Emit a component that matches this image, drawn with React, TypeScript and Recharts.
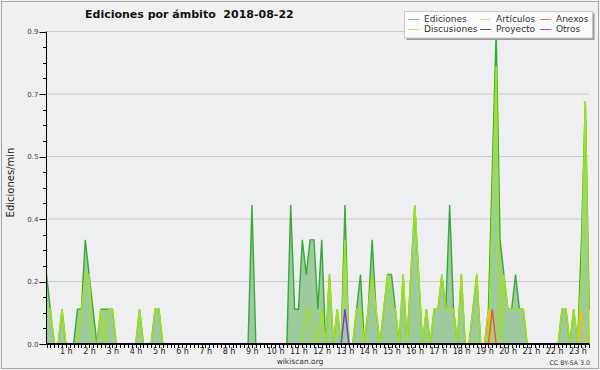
import { ComposedChart, Area, Line, XAxis, YAxis, CartesianGrid, ReferenceLine } from "recharts";

// 10-minute bins from 0:00 to 23:20, values in edits per minute
const ediciones = [
  0.2, 0.1, 0, 0, 0.1, 0, // 0 h
  0, 0, 0.1, 0.1, 0.3, 0.2, // 1 h
  0.1, 0, 0.1, 0.1, 0.1, 0.1, // 2 h
  0, 0, 0, 0, 0, 0, // 3 h
  0.1, 0, 0, 0, 0.1, 0.1, // 4 h
  0, 0, 0, 0, 0, 0, // 5 h
  0, 0, 0, 0, 0, 0, // 6 h
  0, 0, 0, 0, 0, 0, // 7 h
  0, 0, 0, 0, 0, 0.4, // 8 h
  0, 0, 0, 0, 0, 0, // 9 h
  0, 0, 0, 0.4, 0.1, 0.1, // 10 h
  0.3, 0.2, 0.3, 0.3, 0.1, 0.3, // 11 h
  0, 0.2, 0, 0.1, 0, 0.4, // 12 h
  0, 0, 0.1, 0.2, 0, 0.1, // 13 h
  0.3, 0.1, 0, 0.1, 0.2, 0.2, // 14 h
  0.1, 0, 0.2, 0, 0.2, 0.4, // 15 h
  0.2, 0, 0.1, 0, 0.1, 0.1, // 16 h
  0.2, 0.1, 0.4, 0.1, 0, 0.2, // 17 h
  0, 0, 0.1, 0.2, 0, 0, // 18 h
  0.1, 0.5, 0.9, 0.3, 0.2, 0.1, // 19 h
  0.1, 0.2, 0.1, 0.1, 0, 0, // 20 h
  0, 0, 0, 0, 0, 0, // 21 h
  0, 0.1, 0.1, 0, 0.1, 0, // 22 h
  0.3, 0.7, 0.1, // 23 h
];

const articulos = [
  0.1, 0.1, 0, 0, 0.1, 0,
  0, 0, 0, 0.1, 0.2, 0.2,
  0, 0, 0.1, 0, 0.1, 0.1,
  0, 0, 0, 0, 0, 0,
  0.1, 0, 0, 0, 0.1, 0.1,
  0, 0, 0, 0, 0, 0,
  0, 0, 0, 0, 0, 0,
  0, 0, 0, 0, 0, 0,
  0, 0, 0, 0, 0, 0,
  0, 0, 0, 0, 0, 0,
  0, 0, 0, 0, 0, 0,
  0, 0.1, 0.1, 0, 0, 0.1,
  0, 0.2, 0, 0.1, 0, 0.3,
  0, 0, 0.1, 0.1, 0, 0.1,
  0.2, 0.1, 0, 0.1, 0.2, 0.1,
  0.1, 0, 0.2, 0, 0.2, 0.4,
  0.2, 0, 0.1, 0, 0.1, 0.1,
  0.2, 0.1, 0.1, 0.1, 0, 0.2,
  0, 0, 0.1, 0.2, 0, 0,
  0, 0.4, 0.8, 0, 0.2, 0.1,
  0.1, 0.1, 0.1, 0.1, 0, 0,
  0, 0, 0, 0, 0, 0,
  0, 0.1, 0.1, 0, 0.1, 0,
  0.2, 0.7, 0,
];

// the small namespaces only have a few non-zero bins: [bin, value]
const anexos: [number, number][] = [[115, 0.1]];
const discusiones: [number, number][] = [[114, 0.1], [138, 0.1]];
const proyecto: [number, number][] = [];
const otros: [number, number][] = [[77, 0.1]];

const hourLabels = ["1 h", "2 h", "3 h", "4 h", "5 h", "6 h", "7 h", "8 h", "9 h", "10 h", "11 h", "12 h",
  "13 h", "14 h", "15 h", "16 h", "17 h", "18 h", "19 h", "20 h", "21 h", "22 h", "23 h"];

const legendItems = [
  { name: "Ediciones", color: "#7fcc7f" },
  { name: "Artículos", color: "#c8f064" },
  { name: "Anexos", color: "#f07848" },
  { name: "Discusiones", color: "#f8d048" },
  { name: "Proyecto", color: "#555555" },
  { name: "Otros", color: "#9a4cf0" },
];

const bins = ediciones.map((_, i) => i);
const expand = (pairs: [number, number][]) =>
  bins.map((i) => pairs.find((p) => p[0] === i)?.[1] ?? 0);

const rows = bins.map((i) => ({
  bin: i,
  ediciones: ediciones[i],
  articulos: articulos[i],
  anexos: expand(anexos)[i],
  discusiones: expand(discusiones)[i],
  proyecto: expand(proyecto)[i],
  otros: expand(otros)[i],
}));

const yTicks = Array.from({ length: 21 }, (_, k) => +(k * 0.045).toFixed(3));
const gridValues = [0.18, 0.36, 0.54, 0.72, 0.9];

function HourTick(props: any) {
  const { x, y, payload } = props;
  const bin = payload.value as number;
  const xx = Math.round(x) + 0.5;
  const label = bin % 6 === 0 && bin > 0 ? hourLabels[bin / 6 - 1] : null;
  return (
    <g>
      <line x1={xx} x2={xx} y1={y} y2={y + 4} stroke="#000" />
      {label && (
        <text x={x - 3.5} y={y + 10} textAnchor="middle" fontSize={8} fill="#222" fontFamily="DejaVu Sans">
          {label}
        </text>
      )}
    </g>
  );
}

function ValueTick(props: any) {
  const { x, y, payload } = props;
  const k = Math.round(payload.value / 0.045);
  const major = k % 4 === 0;
  const yy = Math.round(y) + 0.5;
  return (
    <g>
      <line x1={x - (major ? 7 : 3.5)} x2={x} y1={yy} y2={yy} stroke="#000" />
      {major && (
        <text x={x - 8} y={y + 2.5} textAnchor="end" fontSize={7} fill="#444" fontFamily="DejaVu Sans">
          {payload.value.toFixed(1)}
        </text>
      )}
    </g>
  );
}

export default function App() {
  return (
    <div style={{ position: "relative", width: 600, height: 370, background: "#f0f0f0" }}>
      <style>{"body{margin:0}"}</style>
      <ComposedChart
        width={600}
        height={370}
        data={rows}
        margin={{ top: 31.5, right: 10.8, bottom: 0, left: 0 }}
      >
        <CartesianGrid
          vertical={false}
          horizontalValues={gridValues}
          stroke="#cccccc"
          fill="#eeeff0"
        />
        <XAxis
          dataKey="bin"
          type="number"
          domain={[0, 140]}
          ticks={bins}
          interval={0}
          height={26}
          tickSize={0}
          tickMargin={0}
          tickLine={false}
          tick={<HourTick />}
          axisLine={{ stroke: "#000" }}
        />
        <YAxis
          type="number"
          domain={[0, 0.9]}
          ticks={yTicks}
          interval={0}
          width={46.5}
          tickSize={0}
          tickMargin={0}
          tickLine={false}
          tick={<ValueTick />}
          axisLine={{ stroke: "#000" }}
        />
        <Area
          type="linear"
          dataKey="ediciones"
          stroke="#38a838"
          strokeWidth={1.4}
          fill="#9dcb9d"
          fillOpacity={1}
          dot={false}
          activeDot={false}
          isAnimationActive={false}
        />
        <Line type="linear" dataKey="proyecto" stroke="#555555" strokeWidth={1.2} dot={false} activeDot={false} isAnimationActive={false} />
        <Line type="linear" dataKey="articulos" stroke="#a2e21c" strokeWidth={1.6} dot={false} activeDot={false} isAnimationActive={false} />
        <Line type="linear" dataKey="discusiones" stroke="#f0c020" strokeWidth={1.4} dot={false} activeDot={false} isAnimationActive={false} />
        <Line type="linear" dataKey="anexos" stroke="#ee5a24" strokeWidth={1.4} dot={false} activeDot={false} isAnimationActive={false} />
        <Line type="linear" dataKey="otros" stroke="#7b2ff7" strokeWidth={1.4} dot={false} activeDot={false} isAnimationActive={false} />
        <ReferenceLine y={0} stroke="#000" strokeWidth={1.5} />
      </ComposedChart>
      <svg
        width={600}
        height={370}
        style={{ position: "absolute", left: 0, top: 0, pointerEvents: "none" }}
        fontFamily="DejaVu Sans"
      >
        <rect x={1.5} y={1.5} width={597} height={367} fill="none" stroke="#a8a8a8" />
        <text x={85} y={18} fontSize={11} fontWeight="bold" fill="#111" style={{ whiteSpace: "pre" }}>
          {"Ediciones por ámbito  2018-08-22"}
        </text>
        <text x={10} y={182.5} fontSize={10} fill="#222" textAnchor="middle" dominantBaseline="central" transform="rotate(-90 10 182.5)">
          Ediciones/min
        </text>
        <rect x={406.5} y={13.5} width={188} height={26.5} fill="#999" />
        <rect x={404.5} y={11.5} width={188} height={26.5} fill="#fbfbfb" stroke="#c8c8c8" />
        {legendItems.map((item, idx) => {
          const col = idx % 3;
          const row = Math.floor(idx / 3);
          const lx = [408, 480, 540][col];
          const tx = [424, 496, 556][col];
          const ly = 19 + row * 10;
          return (
            <g key={item.name}>
              <line x1={lx} x2={lx + 11} y1={ly + 0.5} y2={ly + 0.5} stroke={item.color} />
              <text x={tx} y={22 + row * 10} fontSize={9} fill="#333">{item.name}</text>
            </g>
          );
        })}
        <text x={300} y={364} fontSize={7.5} fill="#333" textAnchor="middle">wikiscan.org</text>
        <text x={590} y={364.5} fontSize={6.3} fill="#333" textAnchor="end">CC BY-SA 3.0</text>
      </svg>
    </div>
  );
}
